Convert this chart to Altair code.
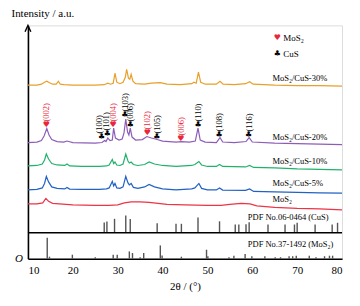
import altair as alt
import pandas as pd

# ---------------- data (2θ in degrees, intensity in a.u.) ----------------
sample_names = ["MoS₂/CuS-30%", "MoS₂/CuS-20%", "MoS₂/CuS-10%", "MoS₂/CuS-5%", "MoS₂"]
sample_colors = ["#E8A02A", "#8C5DB8", "#20B26B", "#2162C4", "#EE3345"]

tt_30 = [10, 12, 13, 13.7, 14.2, 14.8, 15.5, 16.3, 16.8, 17.2, 18, 20, 25, 27, 27.8, 28.4, 29.0, 29.4, 29.8,
         30.5, 31.2, 31.7, 32.0, 32.4, 32.7, 33.0, 33.4, 34, 36, 37.5, 39.5, 41, 44, 46.5, 47.0, 47.5, 48.0,
         48.5, 49.5, 52, 52.8, 53.5, 56, 58.5, 59.4, 60.2, 65, 70, 75, 80]
i_30 = [174, 174, 175, 177, 178, 176.5, 175, 175, 178, 175, 174.5, 174, 174, 174.5, 176, 175, 176, 186, 177,
        175.5, 177, 182, 190, 181, 180, 185, 178, 175.5, 175, 176, 176.5, 175, 174.5, 175.5, 177, 176, 187,
        177, 175, 175, 178, 175, 174.5, 175.5, 177.5, 175, 174, 173.5, 173.5, 173]

tt_20 = [10, 12, 13.0, 13.6, 14.2, 14.7, 15.3, 16.5, 18, 18.7, 20, 25, 26.5, 27.1, 27.4, 27.8, 28.3, 28.8,
         29.1, 29.5, 30.3, 31.0, 31.4, 31.8, 32.2, 32.5, 32.8, 33.2, 34, 35.5, 36.5, 37.5, 38.8, 40, 43, 44.2,
         46, 47.3, 47.9, 48.4, 49.5, 52, 52.8, 53.4, 56, 58.6, 59.3, 60, 65, 70, 75, 80]
i_20 = [116.5, 117, 118.5, 123, 130.5, 124, 119.5, 117.5, 117, 118, 116.5, 116, 116.5, 118.5, 117.5, 121, 118.5, 119,
        131, 121, 119, 120, 126, 140, 127, 124, 131, 122, 119, 119.5, 122.5, 121, 119.5, 118, 117, 117.5,
        117, 118, 131, 119, 117, 116.5, 121.5, 117, 116.5, 117.5, 121.5, 117, 116, 115.5, 115, 114.5]

tt_10 = [10, 12, 13.2, 13.7, 14.1, 14.6, 15.3, 16.5, 18.2, 18.7, 19.3, 22, 26, 27.5, 28.1, 28.8, 29.1, 29.4,
         29.8, 30.5, 31.2, 31.8, 32.3, 32.6, 33.0, 33.5, 34.5, 36, 37.0, 38.2, 40, 43, 46.5, 47.2, 48.1, 48.7,
         50, 52, 52.7, 53.4, 58.5, 59.4, 60.3, 65, 70, 75, 80]
i_10 = [93, 93.5, 95, 99, 105, 100, 95.5, 94, 93.5, 95, 93, 92.5, 92.5, 93, 94, 99.5, 95.5, 97,
        94, 93.5, 95, 105, 98, 96, 97, 94.5, 93.5, 94.5, 97, 95, 93.5, 92.5, 93.5, 94.5, 97.5, 94,
        92.5, 92.5, 94.5, 92.5, 92, 93.5, 91.5, 91, 90, 89.5, 89]

tt_5 = tt_10
i_5 = [69, 69.5, 71, 75.5, 82.5, 77, 72, 70.5, 70, 71.5, 69.8, 69.5, 69.5, 70, 71, 77.5, 73, 75.5,
       71, 70.5, 72, 82.5, 76, 74, 75.5, 71.5, 70.5, 72, 74.5, 72, 70, 69, 70, 71, 75.5, 70.5,
       69, 69, 71, 68.8, 68.5, 70, 67.5, 67, 66.5, 66, 65.7]

tt_0 = [10, 12, 13.3, 14.0, 14.6, 15.5, 17, 18.5, 20, 25, 28, 30, 31.5, 33, 35, 37, 39, 41, 45, 50, 53, 55,
        57.5, 59.5, 61, 65, 70, 75, 80]
i_0 = [55, 55, 56, 60.5, 57.5, 55.5, 55, 54.5, 54, 53.5, 53.5, 54, 56, 57, 57, 56.5, 55.5, 54.5, 54, 53.5, 53.5,
       54.5, 55.5, 55, 53, 51.5, 50.5, 50, 49]

# reference patterns (stick heights)
cus_theta = [27.0, 27.6, 29.3, 31.8, 32.8, 38.8, 43.0, 44.2, 47.9, 52.7, 56.2, 57.0, 58.6, 59.3, 63.5, 67.3,
             69.4, 70.0, 74.0, 77.8, 79.0]
cus_int = [10.3, 11.3, 14, 17.3, 13.7, 9.5, 9, 9, 15.3, 11.5, 8.3, 8.3, 8.5, 10.5, 8.3, 8.3,
           8.3, 10, 8.3, 8.3, 10]
mos2_theta = [14.3, 14.8, 19.9, 25.0, 29.0, 29.9, 32.6, 33.3, 35.0, 35.8, 39.5, 39.9, 44.2, 49.8, 50.1, 54.8,
              55.9, 58.4, 59.9, 62.8, 65.1, 66.3, 68.2, 69.0, 69.8, 72.7, 74.2, 76.1, 77.2, 77.9]
mos2_int = [21, 2, 4, 1.5, 4, 4, 7.3, 5.7, 1.5, 5.7, 13.3, 3.3, 2, 9, 2.5, 1.5,
            3, 4.7, 2.5, 2.5, 1.5, 1.5, 2.5, 2.5, 3, 3, 1.5, 2.5, 3, 3]
cus_base = 26

# peak indexing on the 20 % pattern
hkl_labels = ["(002)", "(100)", "(101)", "(004)", "(103)", "(006)", "(102)", "(105)", "(006)", "(110)", "(108)", "(116)"]
hkl_theta = [14.1, 26.4, 27.7, 29.0, 31.6, 32.8, 36.6, 38.7, 44.1, 47.9, 52.6, 59.2]
hkl_text_theta = [14.1, 25.9, 27.4, 29.0, 31.6, 32.8, 36.6, 38.7, 44.1, 47.9, 52.6, 59.2]
hkl_height = [134, 122, 125, 134, 144, 134, 126, 122, 120, 134, 124, 124]
hkl_phase = ["MoS₂", "CuS", "CuS", "MoS₂", "CuS", "CuS", "MoS₂", "CuS", "MoS₂", "CuS", "CuS", "CuS"]

# ---------------- build tables ----------------
rows = []
for name, tt, ii in zip(sample_names, [tt_30, tt_20, tt_10, tt_5, tt_0], [i_30, i_20, i_10, i_5, i_0]):
    for t, v in zip(tt, ii):
        rows.append({"theta": t, "I": v, "sample": name})
curves = pd.DataFrame(rows)

cus_df = pd.DataFrame({"theta": cus_theta, "y": [cus_base] * len(cus_theta),
                       "y2": [cus_base + h for h in cus_int]})
mos2_df = pd.DataFrame({"theta": mos2_theta, "y": [0] * len(mos2_theta), "y2": mos2_int})

curve_labels = pd.DataFrame({
    "theta": [64.5, 64.5, 64.5, 64.5, 64.5, 59.0, 59.0],
    "y": [181, 122, 97.5, 75.5, 59.5, 42.3, 14.7],
    "text": ["MoS₂/CuS-30%", "MoS₂/CuS-20%", "MoS₂/CuS-10%", "MoS₂/CuS-5%", "MoS₂",
             "PDF No.06-0464 (CuS)", "PDF No.37-1492 (MoS₂)"],
})

sym_for = {"MoS₂": "♥", "CuS": "♣"}
col_for = {"MoS₂": "#E8283A", "CuS": "#000000"}
hkl = pd.DataFrame({"label": hkl_labels, "theta": hkl_theta, "ttheta": hkl_text_theta,
                    "y": hkl_height, "phase": hkl_phase})
hkl["sym"] = hkl["phase"].map(sym_for)
hkl["col"] = hkl["phase"].map(col_for)
hkl["ty"] = hkl["y"] + 3.5

legend_df = pd.DataFrame({"theta": [65.6, 65.6], "y": [221.5, 205.5], "phase": ["MoS₂", "CuS"]})
legend_df["sym"] = legend_df["phase"].map(sym_for)
legend_df["col"] = legend_df["phase"].map(col_for)
legend_df["tx"] = legend_df["theta"] + 1.3

SERIF = "Liberation Serif"
xs = alt.Scale(domain=[10, 80], nice=False, zero=False)
ys = alt.Scale(domain=[0, 234], nice=False, zero=False)

X = alt.X("theta:Q", scale=xs, axis=alt.Axis(
    title="2θ / (°)", values=[10, 20, 30, 40, 50, 60, 70, 80], ticks=False, grid=False,
    domainColor="black", domainWidth=1.6, labelFont=SERIF, labelFontSize=11, labelColor="black",
    labelPadding=6, titleFont=SERIF, titleFontSize=11, titleFontWeight="normal", titleColor="black",
    titlePadding=5))
Y = alt.Y("I:Q", scale=ys, axis=alt.Axis(
    title="Intensity / a.u.", labels=False, ticks=False, grid=False, domainColor="black", domainWidth=1.6,
    titleAngle=0, titleAlign="left", titleBaseline="middle", titleX=-17, titleY=-12,
    titleFont=SERIF, titleFontSize=11, titleFontWeight="normal", titleColor="black"))

lines = alt.Chart(curves).mark_line(strokeWidth=1.2).encode(
    x=X, y=Y,
    color=alt.Color("sample:N", scale=alt.Scale(domain=sample_names, range=sample_colors), legend=None),
    order=alt.Order("theta:Q"))

cus_bars = alt.Chart(cus_df).mark_rule(color="#555555", strokeWidth=1.4).encode(
    x=alt.X("theta:Q", scale=xs), y=alt.Y("y:Q", scale=ys), y2="y2:Q")
mos2_bars = alt.Chart(mos2_df).mark_rule(color="#555555", strokeWidth=1.4).encode(
    x=alt.X("theta:Q", scale=xs), y=alt.Y("y:Q", scale=ys), y2="y2:Q")

sep = alt.Chart(pd.DataFrame({"a": [10], "b": [80], "y": [cus_base]})).mark_rule(
    color="black", strokeWidth=1.6).encode(x=alt.X("a:Q", scale=xs), x2="b:Q", y=alt.Y("y:Q", scale=ys))

arrow = alt.Chart(pd.DataFrame({"theta": [10], "y": [234]})).mark_point(
    shape="M-0.9,2L0,0L0.9,2", size=42, filled=False, stroke="black", strokeWidth=1.4, opacity=1).encode(
    x=alt.X("theta:Q", scale=xs), y=alt.Y("y:Q", scale=ys))

origin = alt.Chart(pd.DataFrame({"t": ["O"]})).mark_text(
    font=SERIF, fontSize=11, fontStyle="italic", align="center", baseline="middle").encode(
    x=alt.value(-9), y=alt.value(234), text="t:N")

clabels = alt.Chart(curve_labels).mark_text(
    font=SERIF, fontSize=8.5, align="left", baseline="middle", color="black").encode(
    x=alt.X("theta:Q", scale=xs), y=alt.Y("y:Q", scale=ys), text="text:N")

hkl_sym = alt.Chart(hkl).mark_text(font="DejaVu Sans", fontSize=8, align="center", baseline="middle").encode(
    x=alt.X("theta:Q", scale=xs), y=alt.Y("y:Q", scale=ys), text="sym:N",
    color=alt.Color("col:N", scale=None))
hkl_txt = alt.Chart(hkl).mark_text(font=SERIF, fontSize=8.5, angle=270, align="left", baseline="middle").encode(
    x=alt.X("ttheta:Q", scale=xs), y=alt.Y("ty:Q", scale=ys), text="label:N",
    color=alt.Color("col:N", scale=None))

leg_sym = alt.Chart(legend_df).mark_text(font="DejaVu Sans", fontSize=8, align="center", baseline="middle").encode(
    x=alt.X("theta:Q", scale=xs), y=alt.Y("y:Q", scale=ys), text="sym:N",
    color=alt.Color("col:N", scale=None))
leg_txt = alt.Chart(legend_df).mark_text(font=SERIF, fontSize=9, align="left", baseline="middle",
                                         color="black").encode(
    x=alt.X("tx:Q", scale=xs), y=alt.Y("y:Q", scale=ys), text="phase:N")

chart = alt.layer(lines, cus_bars, mos2_bars, sep, arrow, origin, clabels, hkl_sym, hkl_txt,
                  leg_sym, leg_txt).properties(
    width=315, height=234,
    autosize=alt.AutoSizeParams(type="none"),
    padding={"left": 20, "top": 17, "right": 10, "bottom": 42},
).configure_view(stroke=None).configure(background="white")

chart.save("out.html", embed_options={"renderer": "svg", "actions": False})
